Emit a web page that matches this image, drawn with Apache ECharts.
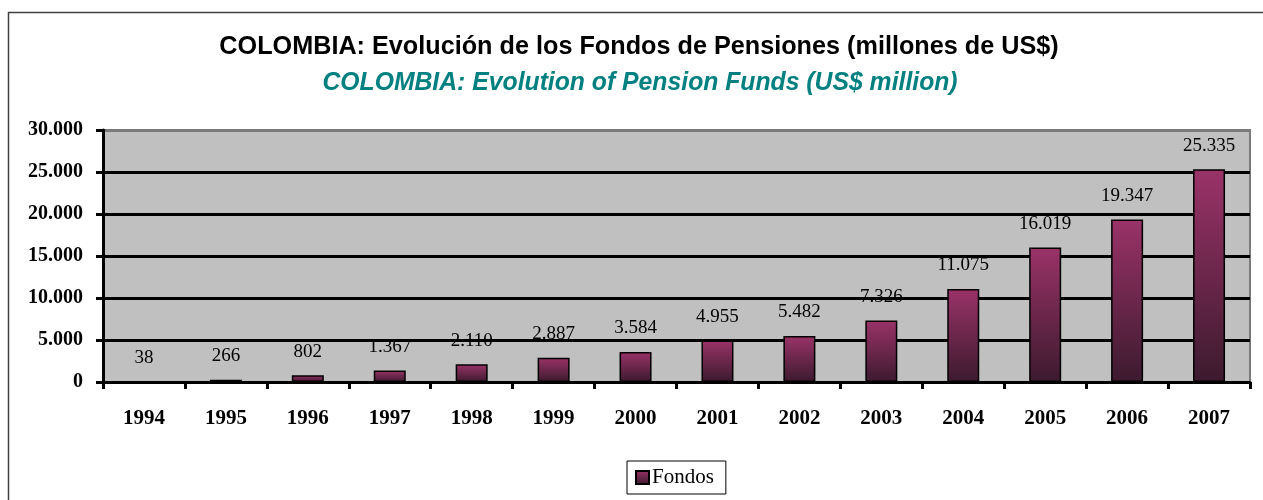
<!DOCTYPE html>
<html>
<head>
<meta charset="utf-8">
<script src="https://cdn.jsdelivr.net/npm/echarts@6/dist/echarts.min.js"></script>
<style>
  html, body { margin: 0; padding: 0; background: #fff; }
  #main { width: 1263px; height: 500px; }
</style>
</head>
<body>
<div id="main"></div>
<script>
// chart data
const years = ['1994', '1995', '1996', '1997', '1998', '1999', '2000', '2001', '2002', '2003', '2004', '2005', '2006', '2007'];
const fondos = [38, 266, 802, 1367, 2110, 2887, 3584, 4955, 5482, 7326, 11075, 16019, 19347, 25335];
const yTicks = [0, 5000, 10000, 15000, 20000, 25000, 30000];

const titleEs = 'COLOMBIA: Evolución de los Fondos de Pensiones (millones de US$)';
const titleEn = 'COLOMBIA: Evolution of Pension Funds (US$ million)';

function fmt(v) {
    return String(v).replace(/\B(?=(\d{3})+(?!\d))/g, '.');
}

const serif = '"Liberation Serif", "Times New Roman", serif';
const sans = '"Liberation Sans", Arial, sans-serif';

let myChart = echarts.init(document.getElementById('main'));
myChart.setOption({
    backgroundColor: '#fff',
    animation: false,
    graphic: [
        {
            type: 'rect', z: -10, silent: true,
            shape: { x: 8.5, y: 12.5, width: 1300, height: 600 },
            style: { fill: 'none', stroke: '#404040', lineWidth: 1.5 }
        },
        {
            type: 'text', x: 639, y: 47, scaleX: 0.97,
            style: { text: titleEs, textAlign: 'center', textVerticalAlign: 'middle',
                     font: 'bold 26px ' + sans, fill: '#000' }
        },
        {
            type: 'text', x: 640, y: 83, scaleX: 0.99,
            style: { text: titleEn, textAlign: 'center', textVerticalAlign: 'middle',
                     font: 'italic bold 25px ' + sans, fill: '#008080' }
        }
    ],
    legend: {
        data: ['Fondos'],
        left: 627,
        top: 461,
        padding: [6, 12, 6, 8],
        borderColor: '#000',
        borderWidth: 1,
        itemWidth: 13,
        itemHeight: 13,
        itemGap: 4,
        icon: 'rect',
        textStyle: { fontFamily: serif, fontSize: 21, color: '#000', padding: [0, 0, 0, -2] }
    },
    grid: {
        left: 103, right: 13, top: 130, bottom: 118,
        show: true,
        backgroundColor: '#c0c0c0',
        borderColor: '#7a7a7a',
        borderWidth: 2
    },
    xAxis: {
        type: 'category',
        data: years,
        axisLine: { lineStyle: { color: '#000', width: 3 } },
        axisTick: { show: true, length: 7, lineStyle: { color: '#000', width: 3 } },
        axisLabel: { fontFamily: serif, fontWeight: 'bold', fontSize: 21, color: '#000', margin: 26 }
    },
    yAxis: {
        type: 'value',
        min: yTicks[0],
        max: yTicks[yTicks.length - 1],
        interval: yTicks[1] - yTicks[0],
        axisLine: { show: true, lineStyle: { color: '#000', width: 3 } },
        axisTick: { show: true, length: 7, lineStyle: { color: '#000', width: 3 } },
        splitLine: { lineStyle: { color: ['#000', '#000', '#000', '#000', '#000', '#000', '#7a7a7a'], width: 3 } },
        axisLabel: { fontFamily: serif, fontWeight: 'bold', fontSize: 20, color: '#000', margin: 20,
                     formatter: v => fmt(v) }
    },
    series: [{
        name: 'Fondos',
        type: 'bar',
        data: fondos,
        barWidth: 32,
        itemStyle: {
            color: new echarts.graphic.LinearGradient(0, 0, 0, 1, [
                { offset: 0, color: '#9a3368' },
                { offset: 1, color: '#3c1a2e' }
            ]),
            borderColor: '#000',
            borderWidth: 1.5
        },
        label: {
            show: true,
            position: 'top',
            distance: 14,
            fontFamily: serif,
            fontSize: 19,
            color: '#000',
            formatter: p => fmt(p.value)
        }
    }]
});
</script>
</body>
</html>
